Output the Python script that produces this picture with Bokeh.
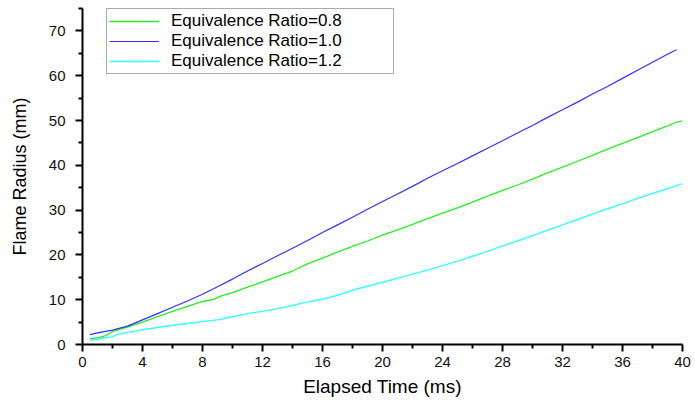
from bokeh.plotting import figure
from bokeh.models import Range1d, FixedTicker, Legend, LegendItem
from bokeh.embed import file_html
from bokeh.resources import INLINE

# ---- data ----
t_08 = [0.5, 1, 1.5, 2, 3, 4, 5, 6, 7, 8, 8.7, 9.3, 10, 11, 12, 13, 14, 15, 16, 17, 18, 19, 20,
        21, 22, 23, 24, 25, 26, 27, 28, 29, 30, 31, 32, 33, 34, 35, 36, 37, 38, 39, 39.5, 40]
r_08 = [1.3, 1.5, 1.9, 2.9, 3.9, 5.0, 6.2, 7.4, 8.5, 9.6, 10.0, 10.9, 11.6, 12.8, 14.0, 15.2, 16.4,
        18.0, 19.3, 20.6, 21.9, 23.1, 24.4, 25.6, 26.8, 28.1, 29.3, 30.5, 31.8, 33.1, 34.4, 35.6,
        36.9, 38.3, 39.6, 40.9, 42.2, 43.6, 44.9, 46.2, 47.5, 48.8, 49.5, 49.9]

t_10 = [0.5, 1, 2, 3, 4, 5, 6, 7, 8, 9, 10, 11, 12, 13, 14, 15, 16, 17, 18, 19, 20, 21, 22, 23,
        24, 25, 26, 27, 28, 29, 30, 31, 32, 33, 34, 35, 36, 37, 38, 39, 39.6]
r_10 = [2.2, 2.6, 3.2, 4.1, 5.5, 6.9, 8.3, 9.7, 11.2, 12.9, 14.6, 16.4, 18.1, 19.8, 21.5, 23.2,
        25.0, 26.7, 28.4, 30.2, 31.9, 33.6, 35.3, 37.1, 38.8, 40.4, 42.1, 43.8, 45.5, 47.2, 48.9,
        50.7, 52.4, 54.1, 55.9, 57.6, 59.4, 61.2, 63.0, 64.8, 65.8]

t_12 = [0.5, 1, 1.5, 2, 2.3, 3, 4, 5, 6, 7, 8, 9, 10, 11, 12, 13, 14, 15, 16, 17, 18, 19, 20, 21,
        22, 23, 24, 25, 26, 27, 28, 29, 30, 31, 32, 33, 34, 35, 36, 37, 38, 39, 40]
r_12 = [1.0, 1.1, 1.5, 1.7, 2.2, 2.7, 3.3, 3.8, 4.3, 4.7, 5.1, 5.5, 6.2, 6.9, 7.4, 8.0, 8.7, 9.5,
        10.1, 11.0, 12.1, 13.0, 13.9, 14.8, 15.7, 16.6, 17.6, 18.6, 19.7, 20.8, 22.0, 23.1, 24.3,
        25.5, 26.7, 27.9, 29.1, 30.3, 31.4, 32.6, 33.7, 34.8, 35.9]

labels = ["Equivalence Ratio=0.8", "Equivalence Ratio=1.0", "Equivalence Ratio=1.2"]
colors = ["#22ee22", "#3030ff", "#33ffff"]
x_major = [0, 4, 8, 12, 16, 20, 24, 28, 32, 36, 40]
x_minor = [2, 6, 10, 14, 18, 22, 26, 30, 34, 38]
y_major = [0, 10, 20, 30, 40, 50, 60, 70]
y_minor = [5, 15, 25, 35, 45, 55, 65, 75]

FONT = "Liberation Sans"

p = figure(width=695, height=402, output_backend="svg", toolbar_location=None,
           x_range=Range1d(0, 40), y_range=Range1d(0, 75),
           min_border_left=82, min_border_right=13, min_border_top=8, min_border_bottom=58)
p.outline_line_color = None
p.xgrid.visible = False
p.ygrid.visible = False
p.background_fill_color = "white"
p.border_fill_color = "white"

l08 = p.line(t_08, r_08, line_color=colors[0], line_width=1.3)
l10 = p.line(t_10, r_10, line_color=colors[1], line_width=1.2)
l12 = p.line(t_12, r_12, line_color=colors[2], line_width=1.4)

p.xaxis.ticker = FixedTicker(ticks=x_major, minor_ticks=x_minor)
p.yaxis.ticker = FixedTicker(ticks=y_major, minor_ticks=y_minor)
p.xaxis.axis_label = "Elapsed Time (ms)"
p.yaxis.axis_label = "Flame Radius (mm)"

for ax in (p.xaxis[0], p.yaxis[0]):
    ax.axis_line_width = 2
    ax.axis_line_color = "black"
    ax.major_tick_line_width = 2
    ax.minor_tick_line_width = 2
    ax.major_tick_line_color = "black"
    ax.minor_tick_line_color = "black"
    ax.major_tick_out = 7
    ax.major_tick_in = 0
    ax.minor_tick_out = 4
    ax.minor_tick_in = 0
    ax.major_label_text_font = FONT
    ax.major_label_text_font_size = "15px"
    ax.major_label_text_color = "#111111"
    ax.axis_label_text_font = FONT
    ax.axis_label_text_font_style = "normal"
    ax.axis_label_text_color = "black"

p.xaxis.axis_label_text_font_size = "19px"
p.yaxis.axis_label_text_font_size = "18px"
p.xaxis.major_label_standoff = 5
p.xaxis.axis_label_standoff = 6
p.yaxis.major_label_standoff = 10
p.yaxis.axis_label_standoff = 16

legend = Legend(items=[LegendItem(label=labels[0], renderers=[l08]),
                       LegendItem(label=labels[1], renderers=[l10]),
                       LegendItem(label=labels[2], renderers=[l12])],
                location=(24, 270))
legend.label_text_font = FONT
legend.label_text_font_size = "17px"
legend.label_text_color = "black"
legend.border_line_color = "#555555"
legend.border_line_width = 1
legend.background_fill_color = "white"
legend.background_fill_alpha = 1
legend.padding = 2
legend.spacing = 0
legend.margin = 0
legend.glyph_width = 50
legend.glyph_height = 18
legend.label_height = 18
legend.label_width = 220
legend.label_standoff = 12
p.add_layout(legend)

open("out.html", "w").write(file_html(p, INLINE))
